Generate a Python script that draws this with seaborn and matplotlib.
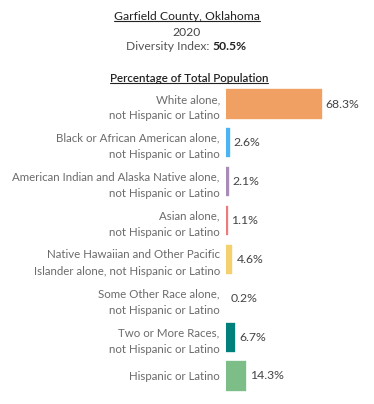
import matplotlib
matplotlib.use("Agg")
import matplotlib.pyplot as plt
from matplotlib.lines import Line2D
import seaborn as sns
import pandas as pd

# --- datos ---
categories = [
    "White alone,\nnot Hispanic or Latino",
    "Black or African American alone,\nnot Hispanic or Latino",
    "American Indian and Alaska Native alone,\nnot Hispanic or Latino",
    "Asian alone,\nnot Hispanic or Latino",
    "Native Hawaiian and Other Pacific\nIslander alone, not Hispanic or Latino",
    "Some Other Race alone,\nnot Hispanic or Latino",
    "Two or More Races,\nnot Hispanic or Latino",
    "Hispanic or Latino",
]
values = [68.3, 2.6, 2.1, 1.1, 4.6, 0.2, 6.7, 14.3]
value_labels = ["68.3%", "2.6%", "2.1%", "1.1%", "4.6%", "0.2%", "6.7%", "14.3%"]
colors = ["#F0A062", "#4BB4F2", "#A98BB8", "#EE7B7B", "#F4D06E", "#9A9A9A", "#00807B", "#7DBE88"]

title = "Garfield County, Oklahoma"
year = "2020"
diversity_index = "50.5%"
subtitle = "Percentage of Total Population"

df = pd.DataFrame({"cat": categories, "val": values})

sns.set_style("white")
plt.rcParams["font.family"] = ["Lato", "DejaVu Sans"]

fig = plt.figure(figsize=(3.74, 4.04), dpi=100)
ax = fig.add_axes([226 / 374, 1 - 395.4 / 404, 140 / 374, (395.4 - 84.6) / 404])

sns.barplot(data=df, x="val", y="cat", hue="cat", palette=colors, legend=False,
            orient="h", width=0.75, ax=ax, saturation=1)

# bordes del mismo color para que las barras finas se vean
for p in ax.patches:
    p.set_edgecolor(p.get_facecolor())
    p.set_linewidth(0.25)
ax.patches[5].set_linewidth(0)

ax.set_xlim(0, 100)
ax.set_ylim(7.5, -0.5)
ax.set_xlabel("")
ax.set_ylabel("")
ax.set_xticks([])
sns.despine(ax=ax, left=True, bottom=True)
ax.tick_params(axis="y", length=0, pad=4.5)
for lab in ax.get_yticklabels():
    lab.set_fontsize(8.3)
    lab.set_color("#6b6b6b")
    lab.set_linespacing(1.6)

for i, (v, t) in enumerate(zip(values, value_labels)):
    ax.text(v + 2.8, i, t, va="center", ha="left", fontsize=8.8, color="#444444")

# titulos
t1 = fig.text(0.5, 1 - 16 / 404, title, ha="center", va="center", fontsize=8.7, color="#222222")
fig.text(0.5, 1 - 32 / 404, year, ha="center", va="center", fontsize=8.7, color="#444444")
fig.text(0.567, 1 - 47 / 404, "Diversity Index: ", ha="right", va="center", fontsize=8.7,
         color="#555555")
fig.text(0.567, 1 - 47 / 404, diversity_index, ha="left", va="center", fontsize=8.7,
         color="#222222", fontweight="bold")
t2 = fig.text(0.505, 1 - 78 / 404, subtitle, ha="center", va="center", fontsize=8.3,
              color="#222222", fontweight="semibold")

# subrayado
fig.canvas.draw()
renderer = fig.canvas.get_renderer()
inv = fig.transFigure.inverted()
for t in (t1, t2):
    bb = t.get_window_extent(renderer)
    (x0, y0), (x1, y1) = inv.transform([[bb.x0, bb.y0], [bb.x1, bb.y1]])
    fig.add_artist(Line2D([x0, x1], [y0 + 0.002, y0 + 0.002], transform=fig.transFigure,
                          color="#222222", linewidth=0.8))

fig.savefig("out.png", dpi=100)
